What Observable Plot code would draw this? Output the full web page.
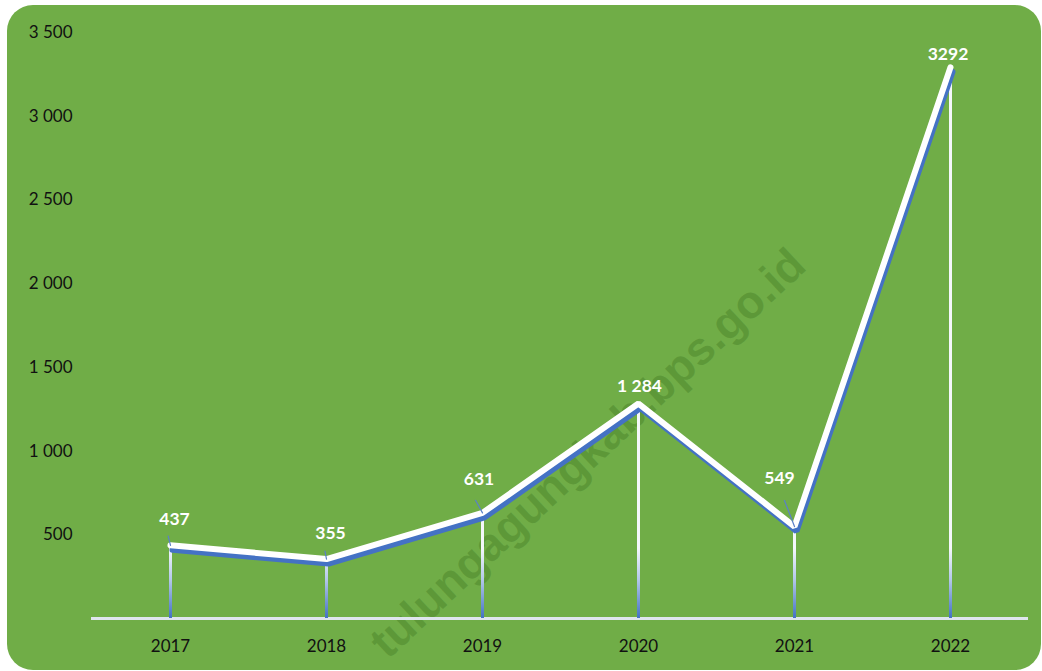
<!DOCTYPE html>
<html><head><meta charset="utf-8">
<script src="https://cdn.jsdelivr.net/npm/d3@7"></script>
<script src="https://cdn.jsdelivr.net/npm/@observablehq/plot@0.6"></script>
<style>
html,body{margin:0;padding:0;background:#fff;overflow:hidden;width:1042px;height:671px}
#bg{position:absolute;left:7px;top:5px;width:1034px;height:665px;background:#70AD47;border-radius:26px}
#chart{position:absolute;left:0;top:0}
</style></head>
<body><div id="bg"></div><div id="chart"></div>
<script>
const years = ["2017", "2018", "2019", "2020", "2021", "2022"];
const values = [437, 355, 631, 1284, 549, 3292];
const labels = ["437", "355", "631", "1 284", "549", "3292"];
const yTicks = [500, 1000, 1500, 2000, 2500, 3000, 3500];
const watermark = "tulungagungkab.bps.go.id";

// style-only offsets for data labels and their leader lines (pixels)
const labelOffsets = [[4, -26], [4, -26], [-3.5, -33], [1, -17], [-15, -48.5], [-2.5, -13]];
const leaderLen = [12, 10, 18, 0, 35, 0];
const leaderRot = [-14, -11, -29, 0, -21, 0];

const idx = d3.range(years.length);
const fmt = d3.formatLocale({thousands: " ", grouping: [3], decimal: ","}).format(",d");

const gradientDefs = (index, scales, values, dims) => {
  const ns = "http://www.w3.org/2000/svg";
  const defs = document.createElementNS(ns, "defs");
  const lg = document.createElementNS(ns, "linearGradient");
  lg.setAttribute("id", "dropGrad");
  lg.setAttribute("gradientUnits", "userSpaceOnUse");
  const yb = dims.height - dims.marginBottom;
  lg.setAttribute("x1", 0); lg.setAttribute("x2", 0);
  lg.setAttribute("y1", yb - 70); lg.setAttribute("y2", yb);
  [[0, "#f4f7fb"], [0.45, "#b4c8ea"], [1, "#4472C4"]].forEach(([o, c]) => {
    const s = document.createElementNS(ns, "stop");
    s.setAttribute("offset", o); s.setAttribute("stop-color", c);
    lg.appendChild(s);
  });
  defs.appendChild(lg);
  return defs;
};

const leaderShape = {draw(ctx, l) { ctx.moveTo(0, 0); ctx.lineTo(0, -l); }};

const chart = Plot.plot({
  width: 1042,
  height: 671,
  marginLeft: 91,
  marginRight: 14,
  marginTop: 32,
  marginBottom: 53,
  style: {fontFamily: "Lato", background: "transparent", color: "#111"},
  x: {type: "band", domain: years, padding: 0, label: null},
  y: {domain: [0, 3500], label: null},
  marks: [
    gradientDefs,
    Plot.text([watermark], {frameAnchor: "middle", text: d => d, rotate: -43, dx: 28, dy: 128,
      fontSize: 46, fontWeight: "bold", fontFamily: "Liberation Sans", fill: "#2f6414", fillOpacity: 0.28}),
    Plot.axisY({ticks: yTicks, tickSize: 0, tickPadding: 19, tickFormat: fmt, fontSize: 17, textAnchor: "end"}),
    Plot.axisX({tickSize: 0, tickPadding: 21, fontSize: 17, letterSpacing: "2px"}),
    Plot.ruleY([0], {stroke: "#dfe5ee", strokeWidth: 3}),
    Plot.ruleX(idx, {x: i => years[i], y1: 0, y2: i => values[i], stroke: "url(#dropGrad)", strokeWidth: 3}),
    Plot.line(idx, {x: i => years[i], y: i => values[i], stroke: "#4472C4", strokeWidth: 6, dx: 2, dy: 4.5, strokeLinejoin: "miter", strokeLinecap: "round"}),
    Plot.line(idx, {x: i => years[i], y: i => values[i], stroke: "#ffffff", strokeWidth: 6, strokeLinejoin: "miter", strokeLinecap: "round"}),
    Plot.vector(idx.filter(i => leaderLen[i] > 0), {x: i => years[i], y: i => values[i], length: i => leaderLen[i], rotate: i => leaderRot[i],
      anchor: "start", shape: leaderShape, stroke: "#5b80c8", strokeWidth: 1.2}),
    ...idx.map(i => Plot.text([i], {x: i => years[i], y: i => values[i], text: i => labels[i],
      dx: labelOffsets[i][0], dy: labelOffsets[i][1], fill: "#ffffff", fontWeight: "bold", fontSize: 17.5}))
  ]
});
document.getElementById("chart").appendChild(chart);
</script>
</body></html>
